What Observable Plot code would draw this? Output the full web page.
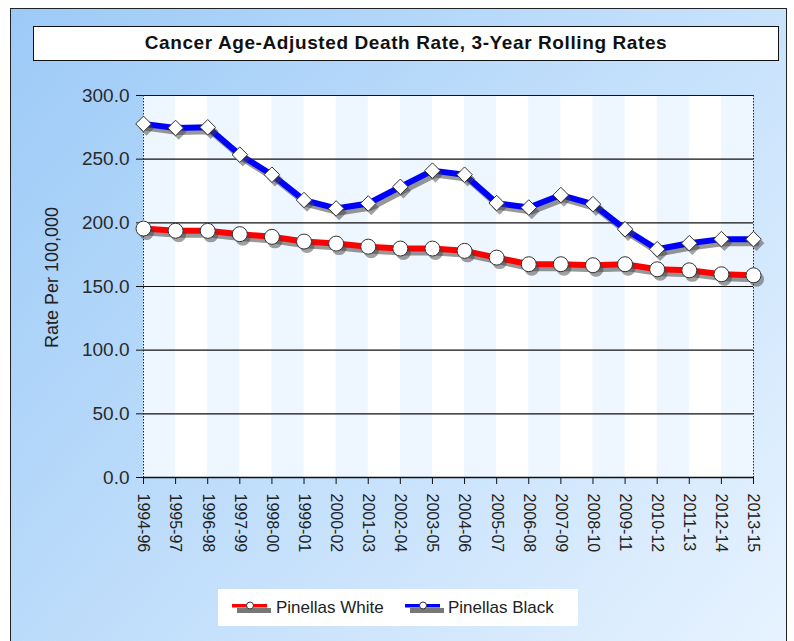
<!DOCTYPE html>
<html>
<head>
<meta charset="utf-8">
<script src="https://cdn.jsdelivr.net/npm/d3@7"></script>
<script src="https://cdn.jsdelivr.net/npm/@observablehq/plot@0.6"></script>
<style>
  html, body { margin: 0; padding: 0; background: #fff; }
  #wrap { position: relative; width: 794px; height: 641px; overflow: hidden; background: #fff;
          font-family: "Liberation Sans", Arial, sans-serif; }
  #frame { position: absolute; left: 10px; top: 8px; width: 777px; height: 660px;
           border: 1.5px solid #222; box-sizing: border-box;
           background: linear-gradient(130deg, #9ccaf7 0%, #c2dffb 50%, #e8f3ff 100%); }
  #chart { position: absolute; left: 0; top: 0; }
  #title { position: absolute; left: 33px; top: 26px; width: 746px; height: 35px; box-sizing: border-box;
           border: 1.5px solid #111; background: #fff; text-align: center; line-height: 32px;
           font-weight: bold; font-size: 19px; letter-spacing: 0.6px; color: #111; }
  #legend { position: absolute; left: 218px; top: 589px; width: 360px; height: 37px; background: #fff; }
  #legend svg { position: absolute; left: 0; top: 0; }
</style>
</head>
<body>
<div id="wrap">
  <div id="frame"></div>
  <div id="chart"></div>
  <div id="title"></div>
  <div id="legend"></div>
</div>
<script>
const titleText = "Cancer Age-Adjusted Death Rate, 3-Year Rolling Rates";
const yLabel = "Rate Per 100,000";
const categories = ["1994-96","1995-97","1996-98","1997-99","1998-00","1999-01","2000-02","2001-03","2002-04","2003-05","2004-06","2005-07","2006-08","2007-09","2008-10","2009-11","2010-12","2011-13","2012-14","2013-15"];
const seriesNames = ["Pinellas White", "Pinellas Black"];
const seriesColors = ["#ff0000", "#0000ff"];
const whiteRates = [195.5, 193.8, 193.7, 191.1, 189.0, 185.3, 183.7, 181.3, 179.8, 179.8, 178.0, 172.7, 167.5, 167.5, 166.7, 167.5, 163.5, 162.7, 159.6, 158.8];
const blackRates = [277.7, 274.5, 275.0, 253.5, 237.8, 217.9, 211.3, 215.2, 228.3, 241.0, 237.8, 215.5, 212.0, 221.8, 214.7, 195.0, 179.3, 184.0, 187.2, 187.2];
const yTicks = [0, 50, 100, 150, 200, 250, 300];

document.getElementById("title").textContent = titleText;

const idx = categories.map((c, i) => i);
const white = idx.map(i => ({i, v: whiteRates[i]}));
const black = idx.map(i => ({i, v: blackRates[i]}));
const bands = idx.filter(i => i % 2 === 0 && i < categories.length - 1);
const last = categories.length - 1;

const shadow = {dx: 3, dy: 4};
const chart = Plot.plot({
  width: 794,
  height: 641,
  marginLeft: 143,
  marginRight: 41,
  marginTop: 95,
  marginBottom: 164,
  style: {background: "transparent", fontFamily: "'Liberation Sans', Arial, sans-serif", color: "#222", overflow: "visible"},
  x: {domain: [0, last]},
  y: {domain: [0, 300]},
  marks: [
    Plot.rect([0], {x1: 0, x2: last, y1: 0, y2: 300, fill: "#ffffff"}),
    Plot.rect(bands, {x1: d => d, x2: d => d + 1, y1: 0, y2: 300, fill: "#eef6ff"}),
    Plot.ruleY(yTicks.filter(t => t > 0), {stroke: "#111", strokeWidth: 1.2}),
    Plot.ruleX([0, last], {stroke: "#222", strokeDasharray: "1.5,1.5", strokeWidth: 1}),
    Plot.axisY({ticks: yTicks, tickFormat: d => d.toFixed(1), tickSize: 7, tickPadding: 7, fontSize: 19, stroke: "#111", fill: "#2a2a2a", label: null}),
    Plot.text([yLabel], {frameAnchor: "left", textAnchor: "middle", dx: -91, dy: -9, rotate: -90, fontSize: 18, fill: "#222", text: d => d}),
    Plot.axisX({ticks: idx, tickFormat: i => categories[i], tickSize: 7, tickPadding: 9, tickRotate: 90, fontSize: 16, stroke: "#111", fill: "#222", label: null}),
    Plot.ruleY([0], {stroke: "#111", strokeWidth: 1.5}),
    // shadows
    Plot.line(white, {x: "i", y: "v", stroke: "#444", strokeOpacity: 0.55, strokeWidth: 6, ...shadow}),
    Plot.line(black, {x: "i", y: "v", stroke: "#444", strokeOpacity: 0.55, strokeWidth: 6, ...shadow}),
    Plot.line(white, {x: "i", y: "v", stroke: seriesColors[0], strokeWidth: 6}),
    Plot.line(black, {x: "i", y: "v", stroke: seriesColors[1], strokeWidth: 6}),
    Plot.dot(white, {x: "i", y: "v", r: 7.5, fill: "#444", fillOpacity: 0.5, ...shadow}),
    Plot.dot(black, {x: "i", y: "v", r: 7, symbol: "diamond2", fill: "#444", fillOpacity: 0.5, stroke: "none", ...shadow}),
    Plot.dot(white, {x: "i", y: "v", r: 7.5, fill: "#fff", stroke: "#333", strokeWidth: 1}),
    Plot.dot(black, {x: "i", y: "v", r: 7, symbol: "diamond2", fill: "#fff", stroke: "#333", strokeWidth: 1})
  ]
});
document.getElementById("chart").appendChild(chart);

// legend
const lg = d3.select("#legend").append("svg").attr("width", 360).attr("height", 37);
const items = [{x: 14, tx: 58}, {x: 187, tx: 230}];
items.forEach((it, k) => {
  const g = lg.append("g");
  g.append("rect").attr("x", it.x + 5).attr("y", 19).attr("width", 34).attr("height", 5).attr("fill", "#777");
  g.append("rect").attr("x", it.x).attr("y", 15).attr("width", 35).attr("height", 3.5).attr("fill", seriesColors[k]);
  g.append("circle").attr("cx", it.x + 18).attr("cy", 16.5).attr("r", 3.5).attr("fill", "#fff").attr("stroke", "#333");
  g.append("text").attr("x", it.tx).attr("y", 24).attr("font-size", 17).attr("fill", "#222")
   .attr("font-family", "'Liberation Sans', Arial, sans-serif").text(seriesNames[k]);
});
</script>
</body>
</html>
